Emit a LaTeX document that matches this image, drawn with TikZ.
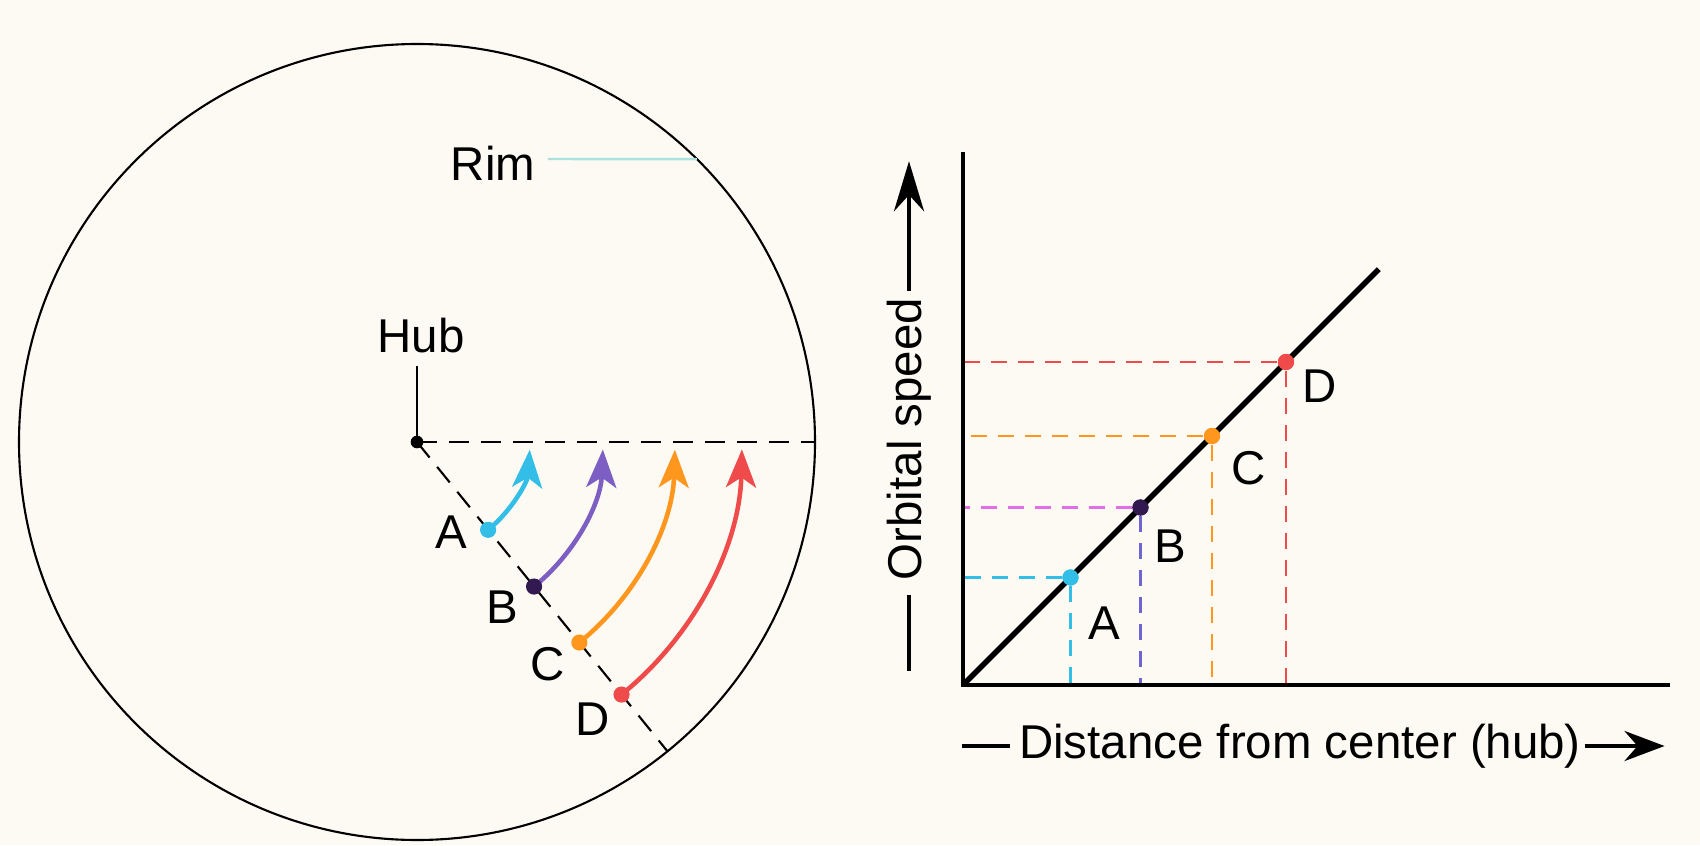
\documentclass[tikz,border=0pt]{standalone}
\usepackage{fontspec}
\setmainfont{Liberation Sans}
\usetikzlibrary{arrows.meta,calc}

\definecolor{paper}{RGB}{253,250,243}
\definecolor{ptA}{RGB}{50,190,230}
\definecolor{ptB}{RGB}{125,95,195}
\definecolor{ptBdark}{RGB}{50,25,80}
\definecolor{ptC}{RGB}{255,150,30}
\definecolor{ptD}{RGB}{240,75,75}
\definecolor{leadline}{RGB}{170,225,220}
\definecolor{guideB}{RGB}{225,110,230}
\definecolor{guideBv}{RGB}{110,100,210}

\begin{document}
\begin{tikzpicture}[
    lbl/.style={font=\fontsize{13.5}{16}\selectfont, inner sep=0pt},
    dot/.style={circle, fill=#1, inner sep=0pt, minimum size=4.6pt},
    spoke/.style={draw, dash pattern=on 2mm off 1.2mm, line width=0.6pt},
    swing/.style={draw=#1, line width=1.3pt, -{Stealth[length=3.8mm, width=3mm, inset=1mm]}},
    guide/.style={draw=#1, dash pattern=on 1.6mm off 1.1mm, line width=0.7pt},
    axis/.style={draw, line width=0.9pt},
    bigarrow/.style={draw, line width=1.3pt, -{Stealth[length=#1, width=3mm]}}
]
\fill[paper] (0,0) rectangle (17,8.45);
\useasboundingbox (0,0) rectangle (17,8.45);

% wheel
\node[dot=black, minimum size=3.6pt] (hub) at (4.17,4.03) {};
\draw[line width=0.6pt] (hub.center) circle[radius=3.98];
\coordinate (rimE) at ($(hub)+(0:3.98)$);
\coordinate (rimSE) at ($(hub)+(-51:3.98)$);
\coordinate (rimNE) at ($(hub)+(45.3:3.98)$);
\draw[spoke] (hub.center) -- (rimE);
\draw[spoke] (hub.center) -- (rimSE);

\node[lbl] (hubtxt) at (4.21,5.09) {Hub};
\draw[line width=0.4pt, shorten >=1.2mm] (hub.center) -- (hub |- hubtxt.south);
\node[lbl] (rimtxt) at (4.93,6.82) {Rim};
\draw[leadline, line width=0.7pt] ($(rimtxt.east)+(0.12,0.04)$) -- (rimNE);

% sample points and their swing
\foreach \r/\e/\col in {1.13/-3.9/ptA, 1.86/-2.3/ptB, 2.58/-1.7/ptC, 3.25/-1.3/ptD} {
    \draw[swing=\col] ($(hub)+(-51:\r)$) arc[start angle=-51, end angle=\e, radius=\r];
}
\node[dot=ptA] (wa) at ($(hub)+(-51:1.13)$) {};
\node[dot=ptBdark] (wb) at ($(hub)+(-51:1.86)$) {};
\node[dot=ptC] (wc) at ($(hub)+(-51:2.58)$) {};
\node[dot=ptD] (wd) at ($(hub)+(-51:3.25)$) {};
\node[lbl] (wla) at ($(wa)+(-0.37,-0.02)$) {A};
\node[lbl] (wlb) at ($(wb)+(-0.32,-0.21)$) {B};
\node[lbl] (wlc) at ($(wc)+(-0.32,-0.22)$) {C};
\node[lbl] (wld) at ($(wd)+(-0.29,-0.25)$) {D};

% graph
\coordinate (O) at (9.63,1.60);
\coordinate (ytop) at (9.63,6.93);
\coordinate (xend) at (16.70,1.60);
\coordinate (slope) at ($(O)+(45:5.88)$);

\node[dot=ptA] (ga) at ($(O)+(1.075,1.075)$) {};
\node[dot=ptBdark] (gb) at ($(O)+(1.775,1.775)$) {};
\node[dot=ptC] (gc) at ($(O)+(2.49,2.49)$) {};
\node[dot=ptD] (gd) at ($(O)+(3.23,3.23)$) {};

\draw[guide=ptA] (ga) -- (ga -| O);
\draw[guide=ptA] (ga) -- (ga |- O);
\draw[guide=guideB] (gb) -- (gb -| O);
\draw[guide=guideBv] (gb) -- (gb |- O);
\draw[guide=ptC] (gc) -- (gc -| O);
\draw[guide=ptC] (gc) -- (gc |- O);
\draw[guide=ptD] (gd) -- (gd -| O);
\draw[guide=ptD] (gd) -- (gd |- O);

\draw[axis] (ytop) -- (O) -- (xend);
\draw[line width=1.6pt] (O) -- (slope);

\node[dot=ptA] at (ga) {};
\node[dot=ptBdark] at (gb) {};
\node[dot=ptC] at (gc) {};
\node[dot=ptD] at (gd) {};
\node[lbl] (gla) at ($(ga)+(0.34,-0.46)$) {A};
\node[lbl] (glb) at ($(gb)+(0.30,-0.39)$) {B};
\node[lbl] (glc) at ($(gc)+(0.37,-0.32)$) {C};
\node[lbl] (gld) at ($(gd)+(0.34,-0.24)$) {D};

% axis titles
\node[lbl, rotate=90] (ylab) at (9.09,4.06) {Orbital speed};
\draw[line width=1.3pt] ($(ylab.west)+(0,-0.14)$) -- ++(0,-0.76);
\draw[bigarrow=5mm] ($(ylab.east)+(0,0.06)$) -- ++(0,1.30);
\node[lbl] (xlab) at (13.0,0.99) {Distance from center (hub)};
\draw[line width=1.3pt] ($(xlab.west)+(-0.08,0)$) -- ++(-0.48,0);
\draw[bigarrow=4mm] ($(xlab.east)+(0.03,0)$) -- ++(0.80,0);
\end{tikzpicture}
\end{document}
